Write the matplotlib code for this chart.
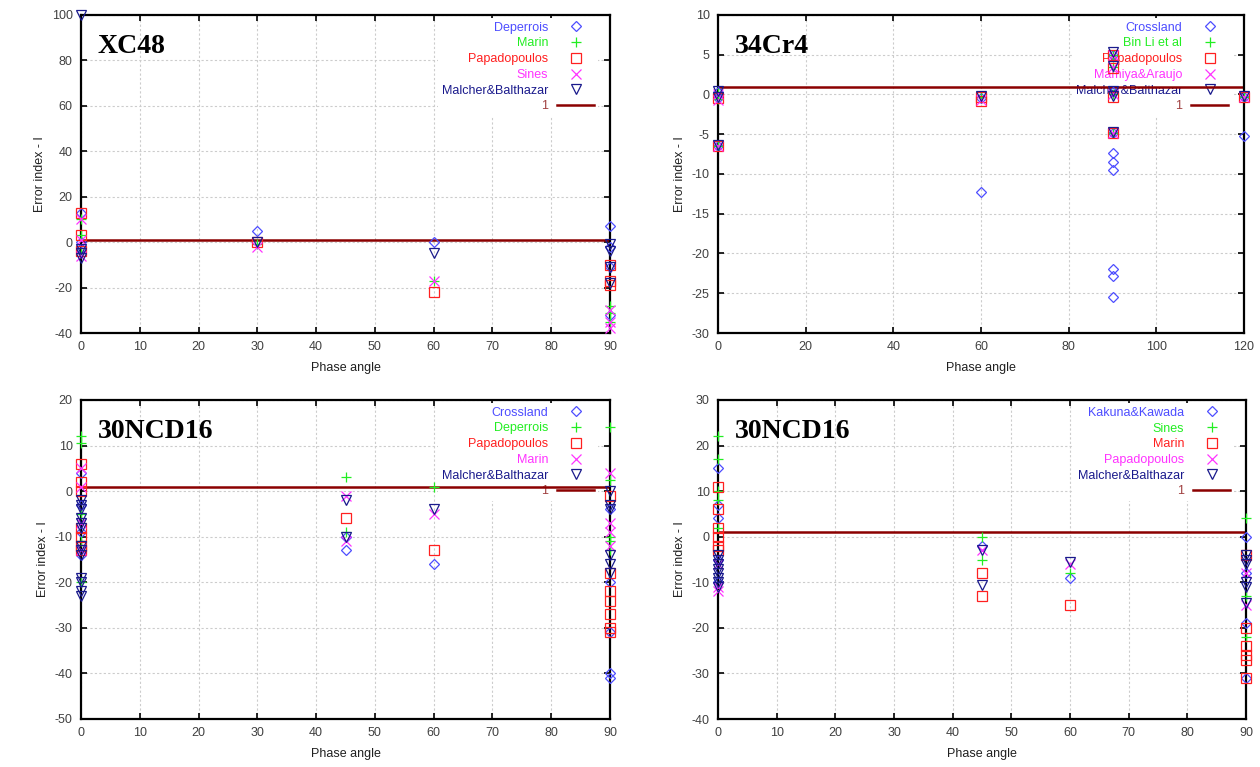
import matplotlib
matplotlib.use('Agg')
import matplotlib.pyplot as plt

# marker styles shared by the 5 series slots of each panel
markers = ['D', '+', 's', 'x', 'v']
colors = ['#4d4dff', '#22ee22', '#ff2020', '#ff33ff', '#1a1a8c']
line_color = '#8b0000'

# ---- XC48 ----
xc48_names = ['Deperrois', 'Marin', 'Papadopoulos', 'Sines', 'Malcher&Balthazar']
xc48_x = [
    [0, 0, 0, 30, 60, 90, 90, 90, 90],
    [0, 0, 0, 30, 60, 90, 90, 90],
    [0, 0, 0, 30, 60, 90, 90, 90],
    [0, 0, 0, 30, 60, 90, 90, 90],
    [0, 0, 0, 0, 30, 60, 90, 90, 90, 90],
]
xc48_y = [
    [13, 0, -3, 5, 0, 7, -2, -11, -32],
    [10, 3, -5, -1, -17, -28, -31, -35],
    [13, 3, -4, 0, -22, -10, -17, -19],
    [10, 1, -6, -2, -17, -30, -35, -38],
    [100, -3, -5, -7, 0, -5, -1, -4, -11, -18],
]

# ---- 34Cr4 ----
cr4_names = ['Crossland', 'Bin Li et al', 'Papadopoulos', 'Mamiya&Araujo', 'Malcher&Balthazar']
cr4_x = [
    [0, 0, 0, 60, 60, 90, 90, 90, 90, 90, 90, 90, 90, 90, 120, 120],
    [0, 0, 0, 60, 90, 90, 90, 90, 120],
    [0, 0, 60, 60, 90, 90, 90, 90, 120],
    [0, 0, 0, 60, 90, 90, 90, 90, 120],
    [0, 0, 0, 60, 90, 90, 90, 90, 90, 120],
]
cr4_y = [
    [0.3, -0.5, -6.5, -0.5, -12.3, 5, 0.3, -4.8, -7.4, -8.5, -9.5, -22, -22.8, -25.5, -0.3, -5.2],
    [0.2, -0.6, -6.5, -0.3, 5, 3.5, 0, -4.8, -0.3],
    [-0.5, -6.5, -0.3, -0.8, 5, 3.3, -0.3, -4.8, -0.3],
    [0, -0.7, -6.5, -0.7, 5, 3.5, 0, -4.8, -0.3],
    [0.5, -0.3, -6.3, -0.2, 5.3, 3.6, 0.5, -0.2, -4.7, -0.2],
]

# ---- 30NCD16 (first set) ----
ncd_a_names = ['Crossland', 'Deperrois', 'Papadopoulos', 'Marin', 'Malcher&Balthazar']
ncd_a_x = [
    [0, 0, 0, 0, 45, 45, 60, 90, 90, 90, 90, 90],
    [0, 0, 0, 0, 0, 45, 45, 60, 90, 90, 90, 90, 90],
    [0, 0, 0, 0, 0, 0, 0, 45, 60, 90, 90, 90, 90, 90, 90, 90],
    [0, 0, 0, 0, 45, 45, 60, 90, 90, 90, 90],
    [0, 0, 0, 0, 0, 0, 0, 0, 0, 0, 0, 0, 0, 45, 45, 60, 90, 90, 90, 90, 90, 90],
]
ncd_a_y = [
    [4, -3, -9, -14, -10, -13, -16, -4, -20, -31, -40, -41],
    [12, 10.5, -5, -11, -20, 3, -9, 1, 14, 2.5, -10, -11, -13],
    [6, 2, 0, -8, -10, -12, -13, -6, -13, -1, -18, -22, -24, -27, -30, -31],
    [5, 1, -7, -13, -1, -11, -5, 4, -7, -9, -12],
    [-2, -3, -4, -6, -7, -8, -12, -13, -14, -19, -20, -22, -23, -2, -10, -4, 0, -3, -4, -14, -16, -18],
]

# ---- 30NCD16 (second set) ----
ncd_b_names = ['Kakuna&Kawada', 'Sines', 'Marin', 'Papadopoulos', 'Malcher&Balthazar']
ncd_b_x = [
    [0, 0, 0, 0, 0, 45, 60, 90, 90, 90, 90],
    [0, 0, 0, 0, 0, 45, 45, 60, 90, 90, 90],
    [0, 0, 0, 0, 0, 0, 45, 45, 60, 90, 90, 90, 90, 90, 90],
    [0, 0, 0, 45, 60, 90, 90],
    [0, 0, 0, 0, 0, 0, 0, 0, 45, 45, 60, 90, 90, 90, 90, 90, 90],
]
ncd_b_y = [
    [15, 7, 4, -5, -10, -2, -9, 0, -8, -19, -31],
    [22, 17, 10, 8, 2, 0, -5, -8, 4, -13, -22],
    [11, 6, 2, 0, -2, -3, -8, -13, -15, -4, -20, -24, -26, -27, -31],
    [-11, -12, -6, -3, -6, -8, -15],
    [-4, -5, -6, -7, -8, -9, -10, -11, -3, -10.5, -5.5, -4, -5, -6, -10, -11, -14.5],
]

W, H = 1260, 767
plt.rcParams['font.family'] = ['Liberation Sans', 'DejaVu Sans']
plt.rcParams['axes.unicode_minus'] = False
fig = plt.figure(figsize=(W / 100, H / 100), dpi=100)


def panel(rect, title, names, xs, ys, xlim, xticks, ylim, yticks):
    l, t, r, b = rect
    ax = fig.add_axes([l / W, 1 - b / H, (r - l) / W, (b - t) / H])
    ax.set_axisbelow(True)
    ax.grid(True, color='#cccccc', linestyle=(0, (2, 2)), linewidth=0.8)
    for i in range(5):
        face = 'none' if markers[i] in ('D', 's', 'v') else colors[i]
        ax.plot(xs[i], ys[i], linestyle='none', marker=markers[i],
                ms=7 if markers[i] != 'D' else 5.5,
                mfc=face, mec=colors[i], mew=0.9, label=names[i], clip_on=False, zorder=3)
    ax.axhline(1, color=line_color, lw=1.8, label='1', zorder=2.5)
    ax.set_xlim(xlim)
    ax.set_ylim(ylim)
    ax.set_xticks(xticks)
    ax.set_yticks(yticks)
    ax.tick_params(direction='in', top=True, right=True, length=4, width=1.2,
                   labelsize=9, labelcolor='#404040', pad=6)
    for s in ax.spines.values():
        s.set_linewidth(1.6)
    ax.set_xlabel('Phase angle', fontsize=9, color='#202020', labelpad=6)
    ax.set_ylabel('Error index - I', fontsize=9, color='#202020', labelpad=4)
    ax.text(0.032, 0.9, title, transform=ax.transAxes, fontsize=20, fontweight='bold',
            family='Liberation Serif', va='center', ha='left')
    leg = ax.legend(loc='upper right', bbox_to_anchor=(1 - 12 / (r - l), 1 - 3 / (b - t)),
                    markerfirst=False, frameon=True, fontsize=9, labelspacing=0.3,
                    handlelength=3.0, handletextpad=0.7, borderpad=0.3, borderaxespad=0)
    leg.get_frame().set_facecolor('white')
    leg.get_frame().set_edgecolor('none')
    leg.get_frame().set_alpha(1)
    leg.set_zorder(1.5)
    for txt, c in zip(leg.get_texts(), colors + ['#a04040']):
        txt.set_color(c)
        txt.set_ha('right')
    leg._legend_box.align = 'right'
    return ax


panel((81, 15, 610, 333), 'XC48', xc48_names, xc48_x, xc48_y,
      (0, 90), range(0, 91, 10), (-40, 100), range(-40, 101, 20))
panel((718, 15, 1244, 333), '34Cr4', cr4_names, cr4_x, cr4_y,
      (0, 120), range(0, 121, 20), (-30, 10), range(-30, 11, 5))
panel((81, 400, 610, 719), '30NCD16', ncd_a_names, ncd_a_x, ncd_a_y,
      (0, 90), range(0, 91, 10), (-50, 20), range(-50, 21, 10))
panel((718, 400, 1246, 719), '30NCD16', ncd_b_names, ncd_b_x, ncd_b_y,
      (0, 90), range(0, 91, 10), (-40, 30), range(-40, 31, 10))

fig.savefig('out.png', dpi=100)
